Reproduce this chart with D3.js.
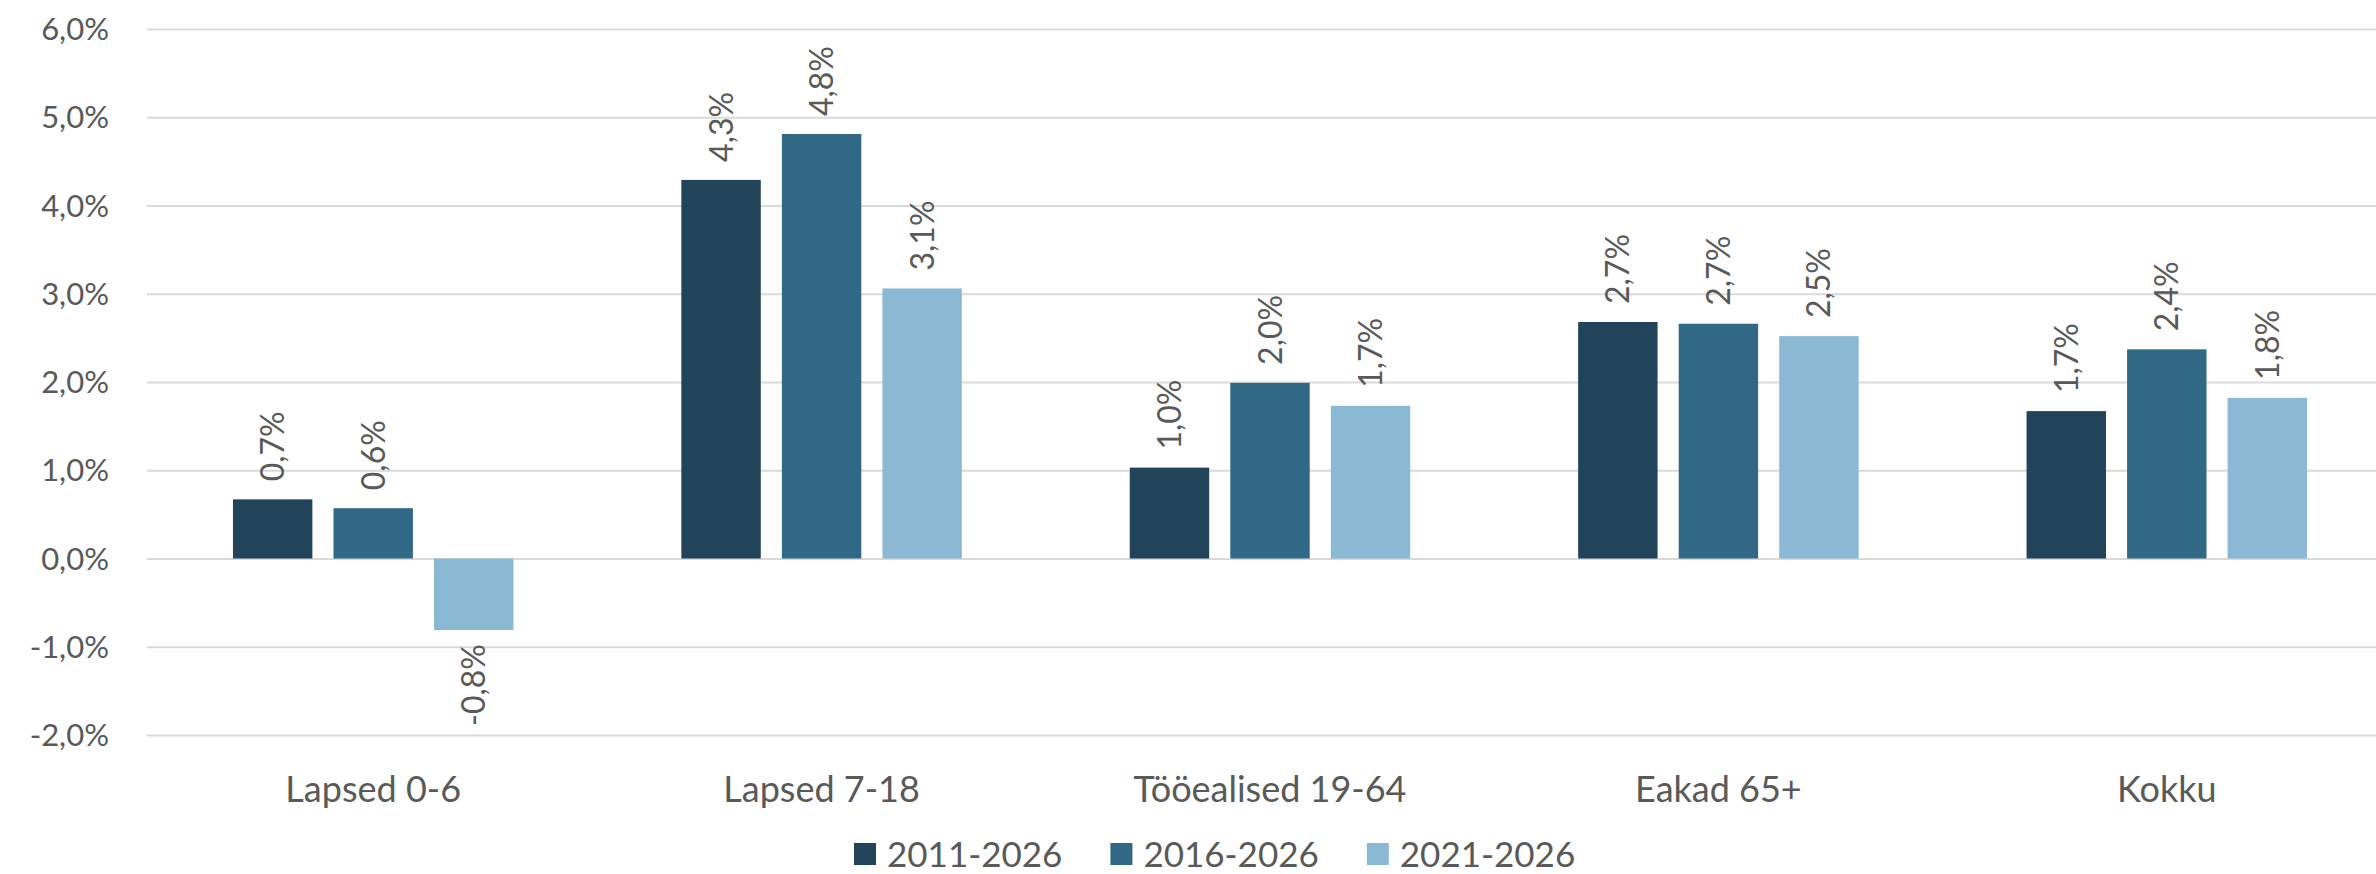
<!DOCTYPE html>
<html>
<head>
<meta charset="utf-8">
<script src="https://cdn.jsdelivr.net/npm/d3@7"></script>
<style>
  body { margin: 0; background: #fff; }
  svg text { font-family: Lato, "Open Sans", sans-serif; fill: #595959; }
  .grid line { stroke: #d9d9d9; stroke-width: 2; }
  .grid .domain { display: none; }
</style>
</head>
<body>
<svg id="chart" width="2376" height="874"></svg>
<script>
// data
const categories = ["Lapsed 0-6", "Lapsed 7-18", "Tööealised 19-64", "Eakad 65+", "Kokku"];
const seriesNames = ["2011-2026", "2016-2026", "2021-2026"];
const s2011 = [0.67, 4.29, 1.03, 2.68, 1.67];
const s2016 = [0.57, 4.81, 1.99, 2.66, 2.37];
const s2021 = [-0.81, 3.06, 1.73, 2.52, 1.82];
const colors = ["#21445b", "#316886", "#8bb9d4"];
const yTicks = [-2, -1, 0, 1, 2, 3, 4, 5, 6];

const values = [s2011, s2016, s2021];
const svg = d3.select("#chart");
const plotLeft = 147, plotRight = 2376, plotTop = 29, plotBottom = 735;

const x0 = d3.scaleBand().domain(categories).range([149, 2391]);
const x1 = d3.scaleBand().domain(seriesNames)
    .range([0, x0.bandwidth()])
    .paddingInner(0.21)
    .paddingOuter(0.835);
const y = d3.scaleLinear().domain([-2, 6]).range([plotBottom, plotTop]);

const fmt = v => v.toFixed(1).replace(".", ",") + "%";

// gridlines
svg.append("g")
    .attr("class", "grid")
    .attr("transform", `translate(${plotLeft},0)`)
    .call(d3.axisLeft(y).tickValues(yTicks).tickSize(-(plotRight - plotLeft)).tickFormat(""));

// y tick labels
svg.append("g").selectAll("text")
    .data(yTicks)
    .join("text")
    .attr("x", 109)
    .attr("y", d => y(d))
    .attr("dy", "0.36em")
    .attr("text-anchor", "end")
    .style("font-size", "31px")
    .text(d => d.toFixed(1).replace(".", ",") + "%");

// bars
const groups = svg.append("g").selectAll("g")
    .data(categories)
    .join("g")
    .attr("transform", d => `translate(${x0(d)},0)`);

const cells = groups.selectAll("g")
    .data((c, i) => seriesNames.map((s, j) => ({ s, j, v: values[j][i] })))
    .join("g");

cells.append("rect")
    .attr("x", d => x1(d.s))
    .attr("width", x1.bandwidth())
    .attr("y", d => y(Math.max(0, d.v)))
    .attr("height", d => Math.abs(y(d.v) - y(0)))
    .attr("fill", d => colors[d.j]);

// rotated value labels
cells.append("text")
    .attr("transform", d => {
        const cx = x1(d.s) + x1.bandwidth() / 2;
        const yy = d.v >= 0 ? y(d.v) - 18 : y(d.v) + 14;
        return `translate(${cx},${yy}) rotate(-90)`;
    })
    .attr("dy", "0.36em")
    .attr("text-anchor", d => d.v >= 0 ? "start" : "end")
    .style("font-size", "32px")
    .text(d => fmt(d.v));

// category labels
svg.append("g").selectAll("text")
    .data(categories)
    .join("text")
    .attr("x", d => x0(d) + x0.bandwidth() / 2)
    .attr("y", 802)
    .attr("text-anchor", "middle")
    .style("font-size", "36px")
    .text(d => d);

// legend
const legend = svg.append("g").attr("transform", "translate(854,854)");
let lx = 0;
seriesNames.forEach((s, j) => {
    const item = legend.append("g").attr("transform", `translate(${lx},0)`);
    item.append("rect")
        .attr("x", 0).attr("y", -11)
        .attr("width", 22).attr("height", 22)
        .attr("fill", colors[j]);
    const t = item.append("text")
        .attr("x", 33)
        .attr("dy", "0.36em")
        .style("font-size", "35px")
        .text(s);
    lx += 33 + t.node().getComputedTextLength() + 48;
});
</script>
</body>
</html>
